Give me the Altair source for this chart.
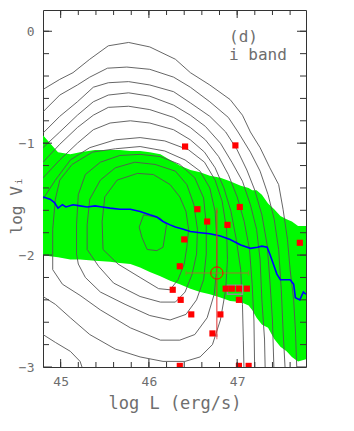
import altair as alt
import pandas as pd

# ---------------- data ----------------
X_DOMAIN = [44.8, 47.78]
Y_DOMAIN = [-3.0, 0.19]

x_major = [45, 46, 47]
y_major = [-3, -2, -1, 0]
x_minor = [45.0, 45.2, 45.4, 45.6, 45.8, 46.0, 46.2, 46.4, 46.6, 46.8, 47.0, 47.2, 47.4, 47.6]
y_minor = [-2.8, -2.6, -2.4, -2.2, -2.0, -1.8, -1.6, -1.4, -1.2, -1.0, -0.8, -0.6, -0.4, -0.2, 0.0]

# green band (upper / lower envelope)
band_x = [44.80, 44.88, 44.97, 45.11, 45.22, 45.39, 45.56, 45.67, 45.79, 45.90, 46.01, 46.13, 46.24, 46.35,
          46.47, 46.58, 46.69, 46.81, 46.92, 47.04, 47.13, 47.17, 47.22, 47.28, 47.35, 47.42, 47.49, 47.56,
          47.62, 47.69, 47.78]
band_hi = [-0.93, -1.00, -1.08, -1.10, -1.08, -1.06, -1.06, -1.06, -1.07, -1.07, -1.08, -1.10, -1.15, -1.20,
           -1.24, -1.26, -1.29, -1.31, -1.34, -1.38, -1.40, -1.42, -1.42, -1.46, -1.54, -1.59, -1.65, -1.68,
           -1.70, -1.74, -1.74]
band_lo = [-2.00, -2.01, -2.02, -2.04, -2.04, -2.05, -2.06, -2.07, -2.08, -2.11, -2.15, -2.19, -2.23, -2.26,
           -2.30, -2.33, -2.35, -2.38, -2.41, -2.42, -2.45, -2.49, -2.56, -2.62, -2.65, -2.75, -2.82, -2.86,
           -2.91, -2.95, -2.93]

# blue median line
blue_x = [44.80, 44.88, 44.93, 44.97, 45.02, 45.06, 45.14, 45.22, 45.30, 45.39, 45.47, 45.56, 45.67, 45.79,
          45.90, 46.01, 46.09, 46.16, 46.24, 46.30, 46.39, 46.47, 46.58, 46.69, 46.81, 46.92, 47.04, 47.15,
          47.23, 47.28, 47.34, 47.37, 47.41, 47.45, 47.49, 47.60, 47.64, 47.66, 47.71, 47.75, 47.78]
blue_y = [-1.48, -1.50, -1.53, -1.58, -1.55, -1.57, -1.55, -1.56, -1.57, -1.56, -1.57, -1.58, -1.59, -1.59,
          -1.61, -1.64, -1.66, -1.70, -1.73, -1.75, -1.77, -1.79, -1.80, -1.81, -1.83, -1.86, -1.91, -1.94,
          -1.93, -1.92, -1.93, -1.99, -2.08, -2.17, -2.22, -2.22, -2.26, -2.38, -2.40, -2.33, -2.35]

# red squares
sq_x = [46.41, 46.98, 46.55, 47.03, 46.66, 46.89, 46.40, 47.71, 46.35, 46.27, 46.87, 46.94, 47.02, 47.11,
        46.36, 47.02, 46.48, 46.81, 46.72, 46.35, 47.02, 47.13]
sq_y = [-1.03, -1.02, -1.59, -1.57, -1.70, -1.73, -1.86, -1.89, -2.10, -2.31, -2.30, -2.30, -2.30, -2.30,
        -2.40, -2.40, -2.53, -2.53, -2.70, -2.99, -2.99, -2.99]

# mean point with error bars
mean_x, mean_y = [46.77], [-2.16]
err_x_lo, err_x_hi = [46.42], [47.13]
err_y_lo, err_y_hi = [-2.73], [-1.60]

# grey box
box_x, box_x2, box_y, box_y2 = [46.89], [47.06], [-2.27], [-2.35]

labels = ["(d)", "i band"]

# contours (traced)
contour_0 = [(45.94, -1.64), (46.13, -1.67), (46.20, -1.73), (46.16, -1.93), (46.09, -1.96), (45.98, -1.95),
             (45.92, -1.84), (45.89, -1.75), (45.94, -1.64)]
contour_1 = [(45.48, -1.95), (45.47, -1.70), (45.50, -1.48), (45.64, -1.33), (45.87, -1.27), (46.05, -1.28),
             (46.24, -1.37), (46.35, -1.48), (46.42, -1.61), (46.45, -1.77), (46.43, -1.93), (46.40, -2.08),
             (46.33, -2.22), (46.24, -2.31), (46.11, -2.30), (45.90, -2.20), (45.65, -2.08), (45.48, -1.95)]
contour_2 = [(45.30, -1.95), (45.30, -1.73), (45.33, -1.50), (45.45, -1.33), (45.62, -1.22), (45.84, -1.17),
             (46.07, -1.19), (46.30, -1.25), (46.43, -1.37), (46.51, -1.55), (46.55, -1.77), (46.54, -1.99),
             (46.49, -2.17), (46.41, -2.33), (46.30, -2.42), (46.13, -2.42), (45.90, -2.37), (45.60, -2.25),
             (45.43, -2.10), (45.30, -1.95)]
contour_3 = [(45.18, -1.99), (45.18, -1.73), (45.20, -1.46), (45.28, -1.28), (45.45, -1.17), (45.67, -1.11),
             (45.90, -1.10), (46.13, -1.12), (46.35, -1.19), (46.52, -1.31), (46.62, -1.49), (46.65, -1.73),
             (46.65, -1.99), (46.62, -2.22), (46.54, -2.40), (46.42, -2.53), (46.24, -2.58), (46.01, -2.54),
             (45.73, -2.44), (45.45, -2.33), (45.28, -2.20), (45.20, -2.08), (45.18, -1.99)]
contour_4 = [(44.91, -2.13), (44.91, -1.77), (44.94, -1.50), (44.99, -1.33), (45.13, -1.19), (45.36, -1.08),
             (45.62, -1.05), (45.90, -1.03), (46.18, -1.07), (46.41, -1.15), (46.58, -1.25), (46.69, -1.40),
             (46.75, -1.61), (46.77, -1.86), (46.77, -2.11), (46.74, -2.35), (46.66, -2.56), (46.52, -2.71),
             (46.35, -2.76), (46.13, -2.76), (45.79, -2.65), (45.45, -2.49), (45.22, -2.36), (45.02, -2.26),
             (44.91, -2.13)]
contour_5 = [(44.65, -1.64), (44.80, -1.50), (44.94, -1.33), (45.11, -1.15), (45.33, -1.04), (45.62, -0.97),
             (45.90, -0.95), (46.18, -0.98), (46.45, -1.06), (46.63, -1.17), (46.75, -1.33), (46.83, -1.52),
             (46.88, -1.77), (46.89, -2.04), (46.87, -2.31), (46.81, -2.58), (46.72, -2.80), (46.58, -2.91),
             (46.41, -2.95), (46.16, -2.95), (45.90, -2.91), (45.62, -2.84), (45.33, -2.71), (45.11, -2.56),
             (44.94, -2.44), (44.80, -2.37), (44.65, -2.31)]
contour_6 = [(44.65, -1.42), (44.80, -1.31), (44.99, -1.15), (45.19, -1.00), (45.37, -0.88), (45.56, -0.82),
             (45.79, -0.80), (46.01, -0.82), (46.28, -0.88), (46.47, -0.97), (46.63, -1.08), (46.75, -1.22),
             (46.85, -1.40), (46.93, -1.61), (46.99, -1.86), (47.04, -2.13), (47.06, -2.44), (47.07, -2.76),
             (47.08, -3.11)]
contour_6b = [(44.65, -2.65), (44.80, -2.71), (44.94, -2.78), (45.11, -2.86), (45.22, -2.95), (45.29, -3.11)]
contour_7 = [(44.65, -1.28), (44.80, -1.17), (44.99, -1.01), (45.19, -0.86), (45.37, -0.75), (45.54, -0.68),
             (45.77, -0.67), (46.01, -0.70), (46.28, -0.77), (46.47, -0.86), (46.64, -0.97), (46.79, -1.12),
             (46.90, -1.28), (47.00, -1.48), (47.08, -1.70), (47.14, -1.95), (47.17, -2.26), (47.19, -2.58),
             (47.20, -3.11)]
contour_8 = [(44.65, -1.13), (44.80, -1.04), (44.99, -0.90), (45.19, -0.75), (45.37, -0.63), (45.54, -0.57),
             (45.77, -0.55), (46.01, -0.58), (46.28, -0.66), (46.47, -0.75), (46.64, -0.85), (46.81, -1.00),
             (46.94, -1.17), (47.06, -1.34), (47.15, -1.55), (47.22, -1.77), (47.26, -2.04), (47.28, -2.40),
             (47.31, -2.75), (47.32, -3.11)]
contour_9 = [(44.65, -0.97), (44.80, -0.91), (44.99, -0.76), (45.19, -0.63), (45.37, -0.50), (45.54, -0.46),
             (45.77, -0.45), (46.01, -0.48), (46.28, -0.54), (46.47, -0.64), (46.69, -0.76), (46.87, -0.90),
             (47.00, -1.06), (47.11, -1.24), (47.20, -1.42), (47.28, -1.64), (47.34, -1.91), (47.37, -2.22),
             (47.40, -2.58), (47.42, -3.11)]
contour_10 = [(44.65, -0.79), (44.80, -0.72), (44.99, -0.57), (45.19, -0.48), (45.33, -0.41), (45.53, -0.33),
              (45.75, -0.32), (46.01, -0.34), (46.28, -0.41), (46.47, -0.50), (46.69, -0.63), (46.90, -0.77),
              (47.01, -0.90), (47.15, -1.08), (47.26, -1.25), (47.35, -1.46), (47.42, -1.68), (47.47, -1.95),
              (47.50, -2.31), (47.52, -2.67), (47.55, -3.11)]
contour_11 = [(44.65, -0.61), (44.80, -0.52), (44.99, -0.43), (45.14, -0.37), (45.33, -0.25), (45.54, -0.13),
              (45.77, -0.10), (46.01, -0.14), (46.30, -0.25), (46.47, -0.37), (46.69, -0.48), (46.92, -0.61),
              (47.06, -0.75), (47.15, -0.90), (47.26, -1.04), (47.37, -1.22), (47.47, -1.37), (47.52, -1.59),
              (47.57, -1.86), (47.60, -2.13), (47.64, -2.40), (47.66, -2.67), (47.68, -3.11)]

contours = [contour_0, contour_1, contour_2, contour_3, contour_4, contour_5, contour_6, contour_6b,
            contour_7, contour_8, contour_9, contour_10, contour_11]

# ---------------- chart ----------------
W, H = 263, 357
FONT = "DejaVu Sans Mono"
TXT = "#6e6e6e"

xs = alt.Scale(domain=X_DOMAIN, nice=False, zero=False)
ys = alt.Scale(domain=Y_DOMAIN, nice=False, zero=False)

xaxis = alt.Axis(title="log L (erg/s)", values=x_major, format="d", ticks=False, domain=False, grid=False,
                 labelFont=FONT, labelFontSize=13, labelColor=TXT, labelPadding=8,
                 titleFont=FONT, titleFontSize=17, titleColor=TXT, titleFontWeight="normal",
                 titleY=36, titleBaseline="middle")
yaxis = alt.Axis(title="log Vᵢ", values=y_major, format="d", ticks=False, domain=False, grid=False,
                 labelFont=FONT, labelFontSize=13, labelColor=TXT, labelPadding=9,
                 titleFont=FONT, titleFontSize=16, titleColor=TXT, titleFontWeight="normal",
                 titleX=-27, titleY=195, titleBaseline="middle")


def X(f):
    return alt.X(f, type="quantitative", scale=xs, axis=xaxis)


def Y(f):
    return alt.Y(f, type="quantitative", scale=ys, axis=yaxis)


band_df = pd.DataFrame({"x": band_x, "hi": band_hi, "lo": band_lo})
band = alt.Chart(band_df).mark_area(color="#00fa00", clip=True, opacity=1).encode(
    x=X("x"), y=Y("hi"), y2="lo")

rows = []
for cid, pts in enumerate(contours):
    for i, (cx, cy) in enumerate(pts):
        rows.append({"x": cx, "y": cy, "c": cid, "o": i})
cont = alt.Chart(pd.DataFrame(rows)).mark_line(color="#555555", strokeWidth=0.9, clip=True).encode(
    x=X("x"), y=Y("y"), detail="c:N", order="o:Q")

blue = alt.Chart(pd.DataFrame({"x": blue_x, "y": blue_y})).mark_line(
    color="#0000ff", strokeWidth=1.6, clip=True).encode(x=X("x"), y=Y("y"))

squares = alt.Chart(pd.DataFrame({"x": sq_x, "y": sq_y})).mark_square(
    color="#ff0000", size=38, opacity=1, clip=True).encode(x=X("x"), y=Y("y"))

err_df = pd.DataFrame({"x": mean_x, "y": mean_y, "xlo": err_x_lo, "xhi": err_x_hi,
                       "ylo": err_y_lo, "yhi": err_y_hi})
vbar = alt.Chart(err_df).mark_rule(color="#e03030", strokeWidth=1).encode(x=X("x"), y=Y("ylo"), y2="yhi")
vcap_lo = alt.Chart(err_df).mark_tick(color="#e03030", thickness=1, size=5).encode(x=X("x"), y=Y("ylo"))
vcap_hi = alt.Chart(err_df).mark_tick(color="#e03030", thickness=1, size=5).encode(x=X("x"), y=Y("yhi"))
hbar = alt.Chart(err_df).mark_rule(color="#9a7a30", strokeWidth=1).encode(x=X("xlo"), x2="xhi", y=Y("y"))
hcap_lo = alt.Chart(err_df).mark_tick(color="#9a7a30", thickness=1, size=5).encode(x=X("xlo"), y=Y("y"))
hcap_hi = alt.Chart(err_df).mark_tick(color="#9a7a30", thickness=1, size=5).encode(x=X("xhi"), y=Y("y"))
circ = alt.Chart(err_df).mark_point(shape="circle", size=150, filled=False, color="#ff0000",
                                    strokeWidth=1, opacity=1).encode(x=X("x"), y=Y("y"))

box = alt.Chart(pd.DataFrame({"x": box_x, "x2": box_x2, "y": box_y, "y2": box_y2})).mark_rect(
    fillOpacity=0, stroke="#909090", strokeWidth=1.5).encode(x=X("x"), x2="x2", y=Y("y"), y2="y2")

t1 = alt.Chart(pd.DataFrame({"t": [labels[0]]})).mark_text(
    align="left", baseline="middle", font=FONT, fontSize=16, color=TXT).encode(
    x=alt.value(186), y=alt.value(27), text="t:N")
t2 = alt.Chart(pd.DataFrame({"t": [labels[1]]})).mark_text(
    align="left", baseline="middle", font=FONT, fontSize=16, color=TXT).encode(
    x=alt.value(186), y=alt.value(45), text="t:N")

# inward ticks on all four sides
TK = "#333333"
xmin_df = pd.DataFrame({"v": x_minor})
xmaj_df = pd.DataFrame({"v": x_major})
ymin_df = pd.DataFrame({"v": y_minor})
ymaj_df = pd.DataFrame({"v": y_major})


def xticks(df, L):
    b = alt.Chart(df).mark_rule(color=TK, strokeWidth=1).encode(x=X("v"), y=alt.value(H), y2=alt.value(H - L))
    t = alt.Chart(df).mark_rule(color=TK, strokeWidth=1).encode(x=X("v"), y=alt.value(0), y2=alt.value(L))
    return [b, t]


def yticks(df, L):
    l = alt.Chart(df).mark_rule(color=TK, strokeWidth=1).encode(y=Y("v"), x=alt.value(0), x2=alt.value(L))
    r = alt.Chart(df).mark_rule(color=TK, strokeWidth=1).encode(y=Y("v"), x=alt.value(W), x2=alt.value(W - L))
    return [l, r]


tick_layers = xticks(xmin_df, 5) + xticks(xmaj_df, 8) + yticks(ymin_df, 6) + yticks(ymaj_df, 9)

chart = alt.layer(band, cont, blue, vbar, vcap_lo, vcap_hi, hbar, hcap_lo, hcap_hi, circ, box, squares,
                  t1, t2, *tick_layers).properties(
    width=W, height=H,
    padding={"left": 35, "top": 2, "right": 10, "bottom": 60},
    autosize=alt.AutoSizeParams(type="none"),
    background="white",
).configure_view(stroke="#333333", strokeWidth=1)

chart.save("out.html", embed_options={"renderer": "svg", "actions": False})
